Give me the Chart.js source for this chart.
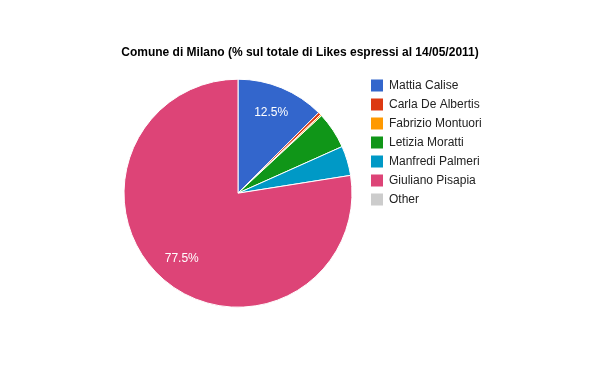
<!DOCTYPE html>
<html>
<head>
<meta charset="utf-8">
<script src="https://cdn.jsdelivr.net/npm/chart.js@4/dist/chart.umd.min.js"></script>
<style>
  body { margin: 0; background: #fff; }
</style>
</head>
<body>
<canvas id="torta" width="600" height="371"></canvas>
<script>
const candidati = [
  "Mattia Calise",
  "Carla De Albertis",
  "Fabrizio Montuori",
  "Letizia Moratti",
  "Manfredi Palmeri",
  "Giuliano Pisapia",
  "Other",
];
const likes = [12.5, 0.4, 0.2, 5.2, 4.2, 77.5, 0];
const colori = ["#3366cc", "#dc3912", "#ff9900", "#109618", "#0099c6", "#dd4477", "#cccccc"];

// etichette percentuali dentro le fette grandi
const etichettePercentuali = {
  id: "etichettePercentuali",
  afterDatasetsDraw(chart) {
    const ctx = chart.ctx;
    const meta = chart.getDatasetMeta(0);
    const totale = likes.reduce((a, b) => a + b, 0);
    ctx.save();
    ctx.font = "12px Arial";
    ctx.fillStyle = "#ffffff";
    ctx.textAlign = "center";
    ctx.textBaseline = "middle";
    meta.data.forEach((arco, i) => {
      const quota = likes[i] / totale;
      if (quota < 0.1) return;
      const p = arco.getProps(["x", "y", "startAngle", "endAngle", "outerRadius"], true);
      const mezzo = (p.startAngle + p.endAngle) / 2;
      const r = p.outerRadius * 0.76;
      ctx.fillText((quota * 100).toFixed(1) + "%", p.x + Math.cos(mezzo) * r, p.y + Math.sin(mezzo) * r);
    });
    ctx.restore();
  },
};

function creaGrafico() {
  const ctx = document.getElementById("torta").getContext("2d");
  const generaOriginale = Chart.overrides.pie.plugins.legend.labels.generateLabels;
  new Chart(ctx, {
    type: "pie",
    data: {
      labels: candidati,
      datasets: [
        {
          data: likes,
          backgroundColor: colori,
          borderColor: "#ffffff",
          borderWidth: 1,
          radius: 114,
        },
      ],
    },
    options: {
      responsive: false,
      animation: false,
      layout: {
        padding: { top: 35, bottom: 57, left: 112, right: 112 },
      },
      plugins: {
        title: {
          display: true,
          text: "Comune di Milano (% sul totale di Likes espressi al 14/05/2011)",
          color: "#000000",
          font: { family: "Arial", size: 12, weight: "bold" },
          padding: { top: 10, bottom: 13 },
        },
        legend: {
          position: "right",
          align: "start",
          fullSize: false,
          maxWidth: 124,
          labels: {
            boxWidth: 12,
            boxHeight: 12,
            padding: 7,
            color: "#222222",
            font: { family: "Arial", size: 12 },
            generateLabels(chart) {
              return generaOriginale(chart).map(item => {
                item.lineWidth = 0;
                item.strokeStyle = item.fillStyle;
                return item;
              });
            },
          },
        },
        tooltip: { enabled: false },
      },
    },
    plugins: [etichettePercentuali],
  });
}

creaGrafico();
</script>
</body>
</html>
